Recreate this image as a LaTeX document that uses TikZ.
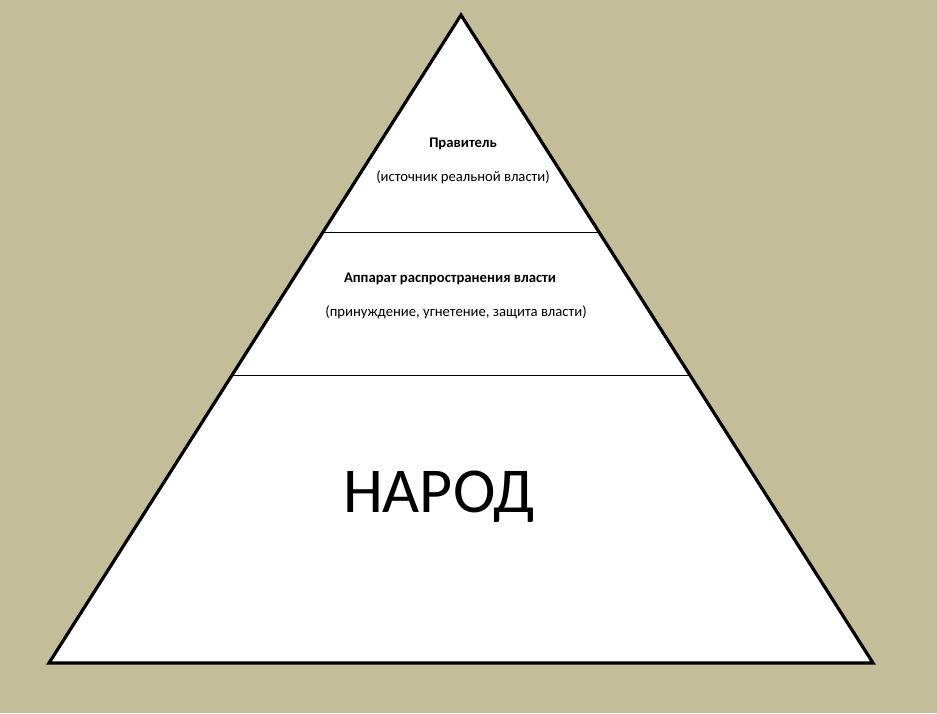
\documentclass[tikz,border=0pt]{standalone}
\usepackage{fontspec}
\setmainfont{Carlito}
\usetikzlibrary{calc}
\definecolor{bgtan}{RGB}{196,189,154}

\tikzset{
    label text/.style={anchor=base, font=\fontsize{11}{13}\selectfont},
    title text/.style={label text, font=\fontsize{11}{13}\selectfont\bfseries},
    level line/.style={draw=black, line width=0.75pt}
}

\begin{document}
\begin{tikzpicture}[x=0.75pt, y=-0.75pt]
    \fill[bgtan] (0,0) rectangle (937,713);
    \useasboundingbox (0,0) rectangle (937,713);
    \coordinate (apex) at (461,15);
    \coordinate (left) at (49,663);
    \coordinate (right) at (873,663);
    \fill[white] (apex) -- (left) -- (right) -- cycle;
    % levels
    \coordinate (l1a) at ($(apex)!0.3364!(left)$);
    \coordinate (l1b) at ($(apex)!0.3364!(right)$);
    \coordinate (l2a) at ($(apex)!0.5556!(left)$);
    \coordinate (l2b) at ($(apex)!0.5556!(right)$);
    \draw[level line] (l1a) -- (l1b);
    \draw[level line] (l2a) -- (l2b);
    \draw[line width=2.4pt, line join=miter] (apex) -- (left) -- (right) -- cycle;
    % texts
    \node[title text] (ruler) at (463,147) {Правитель};
    \node[label text] (rulernote) at (463,181) {(источник реальной власти)};
    \node[title text] (apparat) at (450,282) {Аппарат распространения власти};
    \node[label text] (apparatnote) at (456,316) {(принуждение, угнетение, защита власти)};
    \node[anchor=base, font=\fontsize{48}{58}\selectfont] (people) at (439,512) {НАРОД};
\end{tikzpicture}
\end{document}
